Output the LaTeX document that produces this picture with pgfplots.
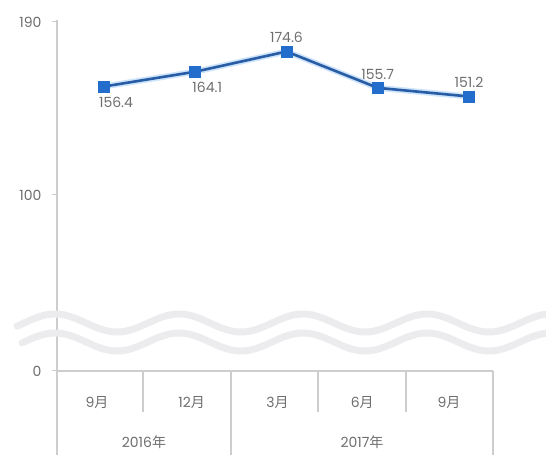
\documentclass[border=0pt]{standalone}
\usepackage{pgfplots}
\pgfplotsset{compat=1.18}
\usepackage{pgfplotstable}
\usepackage{fontspec}
\setmainfont{Poppins}
\newfontfamily\cjk{Noto Sans CJK SC}
\definecolor{txt}{RGB}{110,110,110}
\definecolor{axg}{RGB}{205,205,205}
\definecolor{lineblue}{RGB}{40,92,165}
\definecolor{markblue}{RGB}{35,110,205}
\definecolor{glow}{RGB}{205,228,250}
\definecolor{wave}{RGB}{236,236,239}

\pgfplotstableread{
x y
0 156.4
1 164.1
2 174.6
3 155.7
4 151.2
}\datatable
\pgfplotstableread{
x y
0 156.4
1 164.1
}\belowtable
\pgfplotstableread{
x y
2 174.6
3 155.7
4 151.2
}\abovetable

\begin{document}
\begin{tikzpicture}[x=1pt,y=1pt]
\useasboundingbox (0,0) rectangle (546,455);
\begin{axis}[
  at={(57pt,84pt)}, anchor=south west,
  scale only axis, width=436pt, height=351pt,
  xmin=-0.515, xmax=4.263, ymin=8.4, ymax=191,
  clip=false,
  axis lines=left, axis line style={-, draw=axg, line width=1.3pt},
  ytick={8.4,100,190}, yticklabels={0,100,190},
  ytick style={draw=axg, line width=1pt},
  tick align=outside, major tick length=5pt,
  yticklabel style={font=\fontsize{14}{16}\selectfont, text=txt, xshift=-7pt},
  xtick={-0.077,0.96,1.90,2.83,3.78},
  xticklabels={9{\cjk 月},12{\cjk 月},3{\cjk 月},6{\cjk 月},9{\cjk 月}},
  xtick style={draw=none},
  xticklabel style={font=\fontsize{14}{16}\selectfont, text=txt, anchor=center, yshift=-27pt},
  /pgf/number format/assume math mode=true,
  nodes near coords style={font=\fontsize{14}{16}\selectfont, text=txt,
    /pgf/number format/fixed, /pgf/number format/precision=1,
    /pgf/number format/fixed zerofill},
]
\addplot[glow, line width=6pt, forget plot] table[x=x, y=y] {\datatable};
\addplot[lineblue, line width=2.6pt, mark=square*, mark size=5.5pt,
  mark options={fill=markblue, draw=markblue, line width=0pt}]
  table[x=x, y=y] {\datatable};
\addplot[draw=none, mark=none, nodes near coords, point meta=y,
  nodes near coords style={anchor=north, xshift=12pt, yshift=-7pt}]
  table[x=x, y=y] {\belowtable};
\addplot[draw=none, mark=none, nodes near coords, point meta=y,
  nodes near coords style={anchor=south, yshift=5pt}]
  table[x=x, y=y] {\abovetable};
\end{axis}
% category table lines
\draw[axg, line width=1.3pt] (143,84) -- (143,43);
\draw[axg, line width=1.3pt] (318,84) -- (318,43);
\draw[axg, line width=1.3pt] (406,84) -- (406,43);
\draw[axg, line width=1.3pt] (57,84) -- (57,0);
\draw[axg, line width=1.3pt] (231,84) -- (231,0);
\draw[axg, line width=1.3pt] (493,84) -- (493,0);
\node[font=\fontsize{14}{16}\selectfont, text=txt] at (144,13) {2016{\cjk 年}};
\node[font=\fontsize{14}{16}\selectfont, text=txt] at (362,13) {2017{\cjk 年}};
% axis break
\draw[wave, line width=7pt, line cap=round] plot[smooth, domain=17:560, samples=120] (\x, {132 + 9*cos((\x-55)/124*360)});
\draw[wave, line width=7pt, line cap=round] plot[smooth, domain=22:560, samples=120] (\x, {113 + 9*cos((\x-55)/124*360)});
\end{tikzpicture}
\end{document}
